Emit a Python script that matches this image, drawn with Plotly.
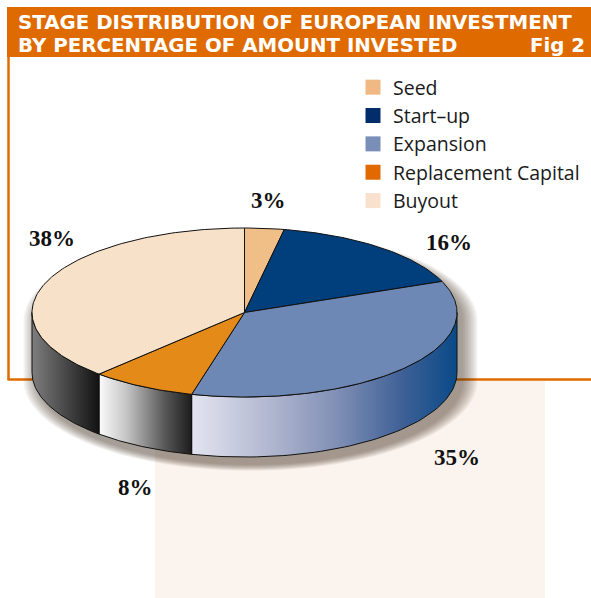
import numpy as np
import plotly.graph_objects as go

# ---------------- data ----------------
stages = ["Seed", "Start\u2013up", "Expansion", "Replacement Capital", "Buyout"]
shares = [3, 16, 35, 8, 38]
title_line1 = "STAGE DISTRIBUTION OF EUROPEAN INVESTMENT"
title_line2 = "BY PERCENTAGE OF AMOUNT INVESTED"
fig_label = "Fig 2"

# ---------------- styles ----------------
top_colors = ["#f0bf88", "#013f7c", "#6e88b6", "#e38a18", "#f7e2c9"]
legend_colors = ["#f0b984", "#022d6a", "#7a8fb7", "#e06a00", "#f8e1cd"]
side_scales = [
    [[0, "#f0bf88"], [1, "#a87a48"]],
    [[0, "#1a4f8a"], [1, "#002a5a"]],
    [[0, "#e3e4f0"], [0.3, "#b0b6cf"], [0.55, "#7f8fb5"], [0.8, "#3d5f95"], [1, "#0a4a88"]],
    [[0, "#fbfbfb"], [0.3, "#c4c4c4"], [0.7, "#5a5a5a"], [1, "#1c1c1c"]],
    [[0, "#7e7e7e"], [1, "#121212"]],
]
# label anchor positions (pixels)
label_pos = [(268, 200), (449, 242), (457, 457), (135, 487), (52, 238)]

W, H = 591, 598
CX, CY, RX, RY, DEPTH = 244.5, 312.5, 212.5, 84.5, 60
ORANGE = "#df6b00"


def ell(t_deg, dy=0.0, rx=RX, ry=RY, cx=CX, cy=CY):
    t = np.radians(t_deg)
    return cx + rx * np.sin(t), cy - ry * np.cos(t) + dy


fig = go.Figure()

# ---------- drop shadow ----------
for k in range(10):
    grow = 1.6 * k
    tt_top = np.linspace(-90, 90, 80)
    tt_bot = np.linspace(90, 270, 80)
    xs1, ys1 = ell(tt_top, rx=RX + grow, ry=RY + grow * 0.4, cx=CX + 6, cy=CY + 8)
    xs2, ys2 = ell(tt_bot, dy=DEPTH, rx=RX + grow, ry=RY + grow * 0.4, cx=CX + 6, cy=CY + 8)
    fig.add_trace(go.Scatter(
        x=np.concatenate([xs1, xs2]), y=np.concatenate([ys1, ys2]),
        fill="toself", mode="none", fillcolor="rgba(60,50,40,0.06)",
        showlegend=False, hoverinfo="skip"))

# ---------- slice angles from data ----------
total = float(sum(shares))
bounds = np.concatenate([[0], np.cumsum(shares)]) / total * 360.0

# ---------- side faces (visible front half: 90..270 deg) ----------
for i, name in enumerate(stages):
    a0, a1 = max(bounds[i], 90.0), min(bounds[i + 1], 270.0)
    if a1 <= a0:
        continue
    tt = np.linspace(a0, a1, 60)
    xt, yt = ell(tt)
    xb, yb = ell(tt[::-1], dy=DEPTH)
    fig.add_trace(go.Scatter(
        x=np.concatenate([xt, xb, xt[:1]]), y=np.concatenate([yt, yb, yt[:1]]),
        fill="toself", mode="lines", line=dict(color="#111", width=1),
        fillgradient=dict(type="horizontal", colorscale=side_scales[i]),
        showlegend=False, hoverinfo="skip", name=name))

# ---------- top faces ----------
for i, name in enumerate(stages):
    tt = np.linspace(bounds[i], bounds[i + 1], max(8, int(shares[i] * 4)))
    xt, yt = ell(tt)
    fig.add_trace(go.Scatter(
        x=np.concatenate([[CX], xt, [CX]]), y=np.concatenate([[CY], yt, [CY]]),
        fill="toself", mode="lines", fillcolor=top_colors[i],
        line=dict(color="#111", width=1), showlegend=False,
        name=name, hovertemplate=f"{name}: {shares[i]}%<extra></extra>"))

# ---------- legend entries ----------
for i, name in enumerate(stages):
    fig.add_trace(go.Scatter(
        x=[None], y=[None], mode="markers", name=name,
        marker=dict(symbol="square", size=15, color=legend_colors[i]),
        legendgroup=f"g{i}", showlegend=True))

# ---------- percentage labels ----------
for i, v in enumerate(shares):
    lx, ly = label_pos[i]
    fig.add_annotation(x=lx, y=ly, text=f"<b>{v}%</b>", showarrow=False,
                       font=dict(family="Liberation Serif", size=23, color="#111"),
                       xanchor="center", yanchor="middle")

# ---------- title ----------
tfont = dict(family="DejaVu Sans", size=19.8, color="white", weight="bold")
fig.add_annotation(x=16, y=22, text=title_line1, showarrow=False, xanchor="left",
                   yanchor="middle", height=22, font=tfont)
fig.add_annotation(x=16, y=45, text=title_line2, showarrow=False, xanchor="left",
                   yanchor="middle", height=22, font=tfont)
fig.add_annotation(x=587, y=45, text=fig_label, showarrow=False, xanchor="right",
                   yanchor="middle", height=22, font=tfont)

shapes = [
    dict(type="rect", x0=155, x1=545, y0=381, y1=H, fillcolor="#fbf3ee",
         line=dict(width=0), layer="below"),
    dict(type="rect", x0=7, x1=W + 5, y0=7, y1=57, fillcolor=ORANGE,
         line=dict(width=0), layer="below"),
    dict(type="line", x0=8.5, x1=8.5, y0=57, y1=380, line=dict(color=ORANGE, width=2.5),
         layer="below"),
    dict(type="line", x0=7.5, x1=W + 5, y0=379.5, y1=379.5,
         line=dict(color=ORANGE, width=2.5), layer="below"),
]

fig.update_layout(
    width=W, height=H, margin=dict(l=0, r=0, t=0, b=0),
    paper_bgcolor="white", plot_bgcolor="white",
    xaxis=dict(range=[0, W], visible=False, fixedrange=True),
    yaxis=dict(range=[H, 0], visible=False, fixedrange=True),
    shapes=shapes,
    showlegend=True,
    legend=dict(x=353 / W, y=1 - 68 / H, xanchor="left", yanchor="top",
                bgcolor="rgba(0,0,0,0)", tracegroupgap=0,
                font=dict(family="Open Sans", size=19.5, color="#1a1a1a"),
                itemclick=False, itemdoubleclick=False),
)

fig.write_html("out.html", config={"displayModeBar": False},
               post_script="document.body.style.margin='0';document.body.style.padding='0';")
